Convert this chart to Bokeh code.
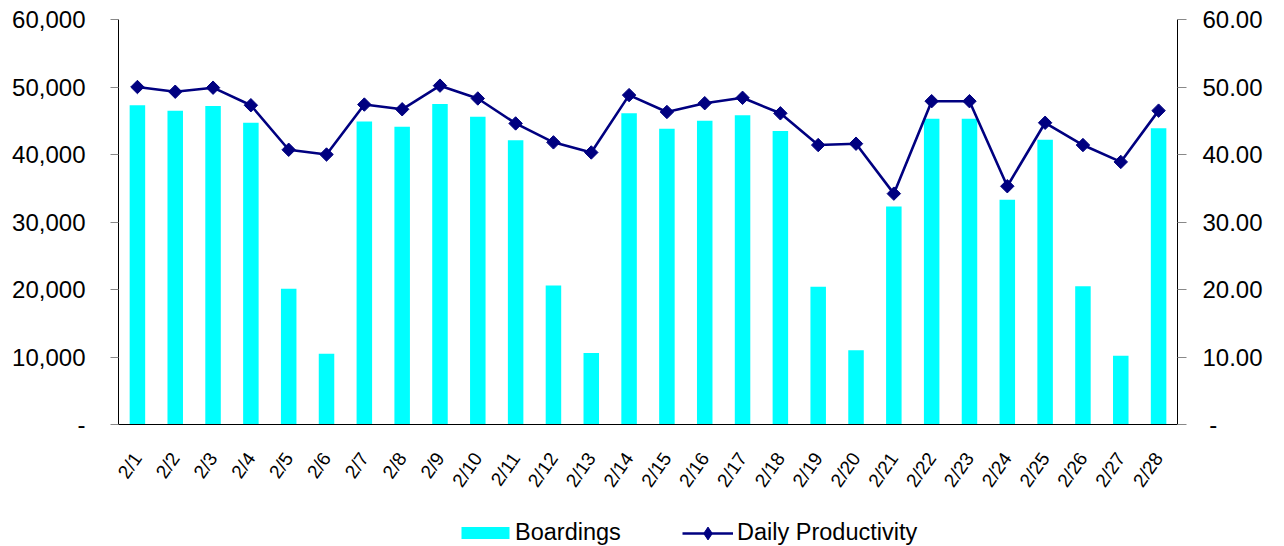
import math
from bokeh.plotting import figure
from bokeh.layouts import column
from bokeh.models import (Range1d, LinearAxis, FactorRange, CustomJSTickFormatter,
                          Legend, LegendItem, FixedTicker, ColumnDataSource)
from bokeh.embed import file_html
from bokeh.resources import INLINE

dates = ["2/1", "2/2", "2/3", "2/4", "2/5", "2/6", "2/7", "2/8", "2/9", "2/10",
         "2/11", "2/12", "2/13", "2/14", "2/15", "2/16", "2/17", "2/18", "2/19", "2/20",
         "2/21", "2/22", "2/23", "2/24", "2/25", "2/26", "2/27", "2/28"]
boardings = [47300, 46500, 47200, 44700, 20100, 10500, 44900, 44100, 47500, 45600,
             42100, 20600, 10600, 46100, 43800, 45000, 45800, 43500, 20400, 11000,
             32300, 45300, 45300, 33300, 42200, 20500, 10200, 43900]
productivity = [50.0, 49.3, 49.9, 47.3, 40.7, 40.0, 47.4, 46.7, 50.2, 48.3,
                44.6, 41.8, 40.3, 48.8, 46.3, 47.6, 48.4, 46.1, 41.4, 41.6,
                34.2, 47.9, 47.9, 35.3, 44.7, 41.4, 38.9, 46.5]
left_ticks = [0, 10000, 20000, 30000, 40000, 50000, 60000]
right_ticks = [0, 10, 20, 30, 40, 50, 60]

FONT = "Liberation Sans"
BAR_COLOR = "#00FFFF"
LINE_COLOR = "#000080"

src = ColumnDataSource(dict(date=dates, boardings=boardings, prod=productivity))

x_range = FactorRange(*dates, range_padding=0)

p = figure(x_range=x_range, y_range=Range1d(0, 60000),
           width=1284, height=510, output_backend="svg", toolbar_location=None,
           min_border_left=118, min_border_top=19, min_border_right=107, min_border_bottom=86)
p.extra_y_ranges = {"prod": Range1d(0, 60)}
p.outline_line_color = None
p.xgrid.visible = False
p.ygrid.visible = False

p.vbar(x="date", top="boardings", width=0.41, source=src,
       fill_color=BAR_COLOR, line_color=None)
p.line(x="date", y="prod", source=src, y_range_name="prod",
       line_color=LINE_COLOR, line_width=2.6)
p.scatter(x="date", y="prod", source=src, y_range_name="prod", marker="square",
          angle=math.pi / 4, size=9.5, fill_color=LINE_COLOR, line_color=LINE_COLOR)

# left axis
la = p.yaxis[0]
la.ticker = FixedTicker(ticks=left_ticks)
la.formatter = CustomJSTickFormatter(code="return tick === 0 ? '-' : tick.toLocaleString('en-US');")
la.major_label_text_font = FONT
la.major_label_text_font_size = "24px"
la.major_label_text_color = "black"
la.axis_line_color = "black"
la.major_tick_line_color = "#888888"
la.major_tick_in = 0
la.major_tick_out = 8
la.minor_tick_line_color = None
la.major_label_standoff = 25

# right axis
ra = LinearAxis(y_range_name="prod")
ra.ticker = FixedTicker(ticks=right_ticks)
ra.formatter = CustomJSTickFormatter(code="return tick === 0 ? '\u00a0-' : tick.toFixed(2);")
ra.major_label_text_font = FONT
ra.major_label_text_font_size = "24px"
ra.major_label_text_color = "black"
ra.axis_line_color = "black"
ra.major_tick_line_color = "#888888"
ra.major_tick_in = 0
ra.major_tick_out = 9
ra.minor_tick_line_color = None
ra.major_label_standoff = 16
p.add_layout(ra, "right")

# bottom axis
xa = p.xaxis[0]
xa.axis_line_color = "black"
xa.major_tick_line_color = None
xa.major_tick_in = 0
xa.major_tick_out = 0
xa.minor_tick_line_color = None
xa.major_label_orientation = 0.96
xa.major_label_text_font = FONT
xa.major_label_text_font_size = "19px"
xa.major_label_text_color = "black"
xa.major_label_standoff = 30

# legend strip below the chart: hidden copies of the series supply the legend glyphs
q = figure(x_range=x_range, y_range=Range1d(0, 60000), width=1284, height=36,
           output_backend="svg", toolbar_location=None,
           x_axis_type=None, y_axis_type=None,
           min_border_left=118, min_border_right=107, min_border_top=0, min_border_bottom=0)
q.outline_line_color = None
q.xgrid.visible = False
q.ygrid.visible = False
qb = q.vbar(x="date", top="boardings", width=0.41, source=src,
            fill_color=BAR_COLOR, line_color=None, visible=False)
ql = q.line(x="date", y="prod", source=src, line_color=LINE_COLOR, line_width=2.6,
            visible=False)
qm = q.scatter(x="date", y="prod", source=src, marker="diamond", size=9.5,
               fill_color=LINE_COLOR, line_color=LINE_COLOR, visible=False)

common = dict(orientation="horizontal", padding=0, margin=0, border_line_color=None,
              background_fill_alpha=0, label_text_font=FONT, click_policy="none",
              label_text_font_size="23.5px", label_text_color="black")
leg1 = Legend(items=[LegendItem(label="Boardings", renderers=[qb])],
              location=(455 - 118, 0), glyph_width=60, glyph_height=15,
              label_standoff=0, **common)
leg2 = Legend(items=[LegendItem(label="Daily Productivity", renderers=[ql, qm])],
              location=(682 - 118, -2.5), glyph_width=51, glyph_height=32,
              label_standoff=4, **common)
q.add_layout(leg1, "center")
q.add_layout(leg2, "center")

layout = column(p, q, spacing=0)
open("out.html", "w").write(file_html(layout, INLINE))
